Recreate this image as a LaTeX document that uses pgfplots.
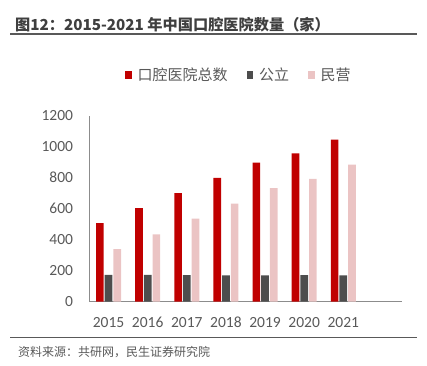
\documentclass[border=0pt]{standalone}
\usepackage{fontspec}
\usepackage{pgfplots}
\pgfplotsset{compat=1.18}
\setmainfont{Carlito}
\newfontfamily\cjk{Noto Sans CJK SC}
\definecolor{cred}{HTML}{C00000}
\definecolor{cgray}{HTML}{4D4D4D}
\definecolor{cpink}{HTML}{EBC4C4}
\definecolor{ctext}{HTML}{595959}
\definecolor{ctitle}{HTML}{3F3F3F}
\begin{document}
\begin{tikzpicture}
\path[use as bounding box] (0pt,0pt) rectangle (427pt,365pt);
\node[anchor=west,inner sep=0pt,text=ctitle,font=\cjk\bfseries\fontsize{15.2}{18}\selectfont] at (15pt,340pt) {图12：2015-2021 年中国口腔医院数量（家）};
\draw[line width=2pt,color=ctext] (10pt,330.7pt) -- (417pt,330.7pt);
\draw[line width=1.5pt,color=ctext] (10pt,27.7pt) -- (417pt,27.7pt);
\node[anchor=west,inner sep=0pt,text=ctext,font=\cjk\fontsize{12}{14}\selectfont] at (18pt,13.3pt) {资料来源：共研网，民生证券研究院};
\begin{axis}[
  at={(89pt,63.5pt)}, anchor=south west,
  scale only axis, width=313pt, height=186pt,
  xmin=-0.5, xmax=7.5, ymin=0, ymax=1200,
  ybar=1pt, bar width=7.7pt,
  axis lines=left,
  axis line style={-},
  x axis line style={draw=gray!90, line width=1.5pt},
  y axis line style={draw=gray!90, line width=0.8pt},
  major tick length=0pt,
  xtick={0,...,6},
  xticklabels={2015,2016,2017,2018,2019,2020,2021},
  ytick={0,200,...,1200},
  ticklabel style={font=\fontsize{15.5}{17}\selectfont, text=ctext},
  yticklabel style={xshift=-12.5pt, /pgf/number format/1000 sep={}},
  xticklabel style={yshift=-12pt},
  /pgf/number format/assume math mode=true,
  legend image code/.code={\fill[#1] (0pt,-3.5pt) rectangle (6.5pt,4pt);},
  legend columns=3,
  legend style={at={(0.479,1.216)}, anchor=center, draw=none, fill=none,
    font=\cjk\fontsize{15}{17}\selectfont, text=ctext,
    /tikz/every odd column/.append style={column sep=4pt},
    /tikz/every even column/.append style={column sep=17pt}},
]
\addplot[fill=cred, draw=none] coordinates {(0,506) (1,603) (2,700) (3,797) (4,896) (5,956) (6,1044)};
\addplot[fill=cgray, draw=none] coordinates {(0,172) (1,172) (2,170) (3,168) (4,168) (5,170) (6,168)};
\addplot[fill=cpink, draw=none] coordinates {(0,338) (1,433) (2,534) (3,631) (4,732) (5,791) (6,883)};
\legend{口腔医院总数,公立,民营}
\end{axis}
\end{tikzpicture}
\end{document}
